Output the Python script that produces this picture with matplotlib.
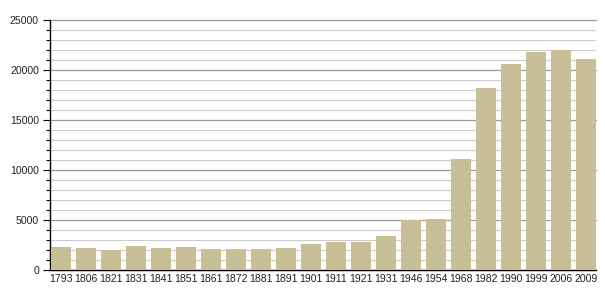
import matplotlib
matplotlib.use("Agg")
import matplotlib.pyplot as plt
from matplotlib.ticker import MultipleLocator

years = ["1793", "1806", "1821", "1831", "1841", "1851", "1861", "1872", "1881", "1891",
         "1901", "1911", "1921", "1931", "1946", "1954", "1968", "1982", "1990", "1999",
         "2006", "2009"]
population = [2330, 2200, 2000, 2400, 2200, 2300, 2100, 2100, 2100, 2200,
              2600, 2800, 2800, 3400, 5000, 5100, 11100, 18200, 20600, 21800,
              22000, 21100]

plt.rcParams['font.family'] = ['Liberation Sans', 'DejaVu Sans']
fig = plt.figure(figsize=(6.05, 3.0), dpi=100)
ax = fig.add_axes([50/605, 30/300, 546/605, 249.5/300])

x = list(range(len(years)))
ax.bar(x, population, width=0.82, color="#C9BF97", zorder=3)
ax.set_xlim(-0.45, len(years) - 0.59)
ax.set_ylim(0, 25000)
ax.set_xticks(x)
ax.set_xticklabels(years)
ax.yaxis.set_major_locator(MultipleLocator(5000))
ax.yaxis.set_minor_locator(MultipleLocator(1000))
ax.grid(axis='y', which='minor', color='#cccccc', linewidth=0.8, zorder=0)
ax.grid(axis='y', which='major', color='#999999', linewidth=0.9, zorder=0)
for gl in ax.yaxis.get_gridlines():
    gl.set_clip_on(False)
for s in ['top', 'right']:
    ax.spines[s].set_visible(False)
ax.spines['left'].set_linewidth(1.0)
ax.spines['bottom'].set_linewidth(1.0)
ax.tick_params(axis='x', length=0, pad=3, labelsize=7.6)
ax.tick_params(axis='y', which='major', length=5, width=0.8, pad=3, labelsize=7.6)
ax.tick_params(axis='y', which='minor', length=3, width=0.8)
ax.tick_params(axis='both', colors='black', labelcolor='#222222')
fig.savefig("out.png", dpi=100)
